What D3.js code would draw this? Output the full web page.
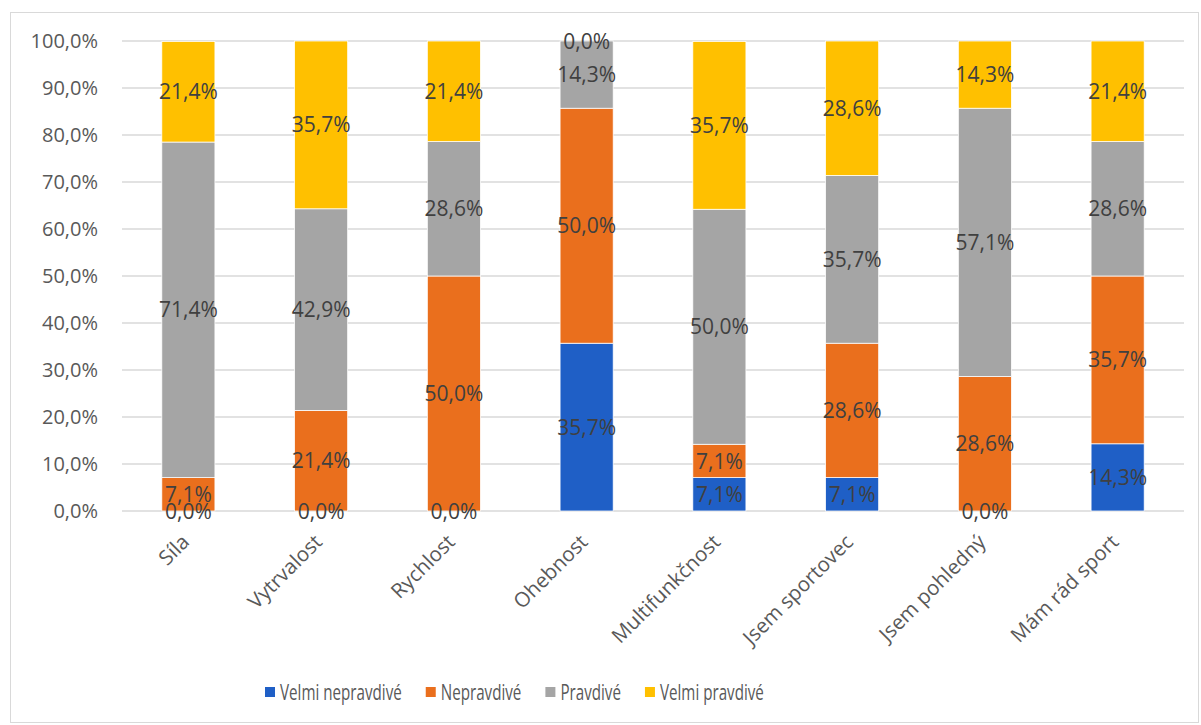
<!DOCTYPE html>
<html>
<head>
<meta charset="utf-8">
<script src="https://cdn.jsdelivr.net/npm/d3@7"></script>
<style>
  body { margin: 0; background: #fff; }
  svg text { font-family: "Open Sans", "Segoe UI", sans-serif; }
</style>
</head>
<body>
<div id="chart"></div>
<script>
// categories and series, values in percent
const categories = ['Síla', 'Vytrvalost', 'Rychlost', 'Ohebnost', 'Multifunkčnost', 'Jsem sportovec', 'Jsem pohledný', 'Mám rád sport'];
const seriesNames = ['Velmi nepravdivé', 'Nepravdivé', 'Pravdivé', 'Velmi pravdivé'];
const velmiNepravdive = [0.0, 0.0, 0.0, 35.7, 7.1, 7.1, 0.0, 14.3];
const nepravdive      = [7.1, 21.4, 50.0, 50.0, 7.1, 28.6, 28.6, 35.7];
const pravdive        = [71.4, 42.9, 28.6, 14.3, 50.0, 35.7, 57.1, 28.6];
const velmiPravdive   = [21.4, 35.7, 21.4, 0.0, 35.7, 28.6, 14.3, 21.4];
const yTicks = [0, 10, 20, 30, 40, 50, 60, 70, 80, 90, 100];
const colors = ['#1F5FC6', '#EA6F1D', '#A5A5A5', '#FFC000'];

let width = 1201, height = 725;
let margins = { top: 41, right: 17, bottom: 214, left: 122 };

let locale = d3.formatLocale({ decimal: ',', thousands: ' ', grouping: [3], currency: ['', ' Kč'] });
let fmt = v => locale.format('.1f')(v) + '%';

let rows = categories.map((c, i) => ({
  cat: c,
  v: [velmiNepravdive[i], nepravdive[i], pravdive[i], velmiPravdive[i]]
}));

let stack = d3.stack()
  .keys([0, 1, 2, 3])
  .value((d, k) => d.v[k]);
let stacked = stack(rows);

let x = d3.scaleBand()
  .domain(categories)
  .range([margins.left, width - margins.right])
  .paddingInner(0.6)
  .paddingOuter(0.3);

let y = d3.scaleLinear()
  .domain([0, 100])
  .range([height - margins.bottom, margins.top]);

let $svg = d3.select('#chart').append('svg')
  .attr('width', width)
  .attr('height', height);

// chart border
$svg.append('rect')
  .attr('x', 10.5).attr('y', 12.5)
  .attr('width', 1188).attr('height', 710)
  .attr('fill', 'none')
  .attr('stroke', '#d9d9d9');

// gridlines
$svg.append('g')
  .selectAll('line')
  .data(yTicks)
  .enter()
  .append('line')
  .attr('x1', margins.left)
  .attr('x2', width - margins.right)
  .attr('y1', d => y(d))
  .attr('y2', d => y(d))
  .attr('stroke', '#d9d9d9')
  .attr('stroke-width', 1.5);

// y axis labels
let yAxis = d3.axisLeft(y).tickValues(yTicks).tickFormat(fmt).tickSize(0).tickPadding(0);
let $yAxis = $svg.append('g')
  .attr('transform', `translate(98,0)`)
  .call(yAxis);
$yAxis.select('.domain').remove();
$yAxis.selectAll('text')
  .attr('font-family', '"Open Sans", sans-serif')
  .attr('font-size', 20)
  .attr('fill', '#595959');

// bars
let $layers = $svg.append('g')
  .selectAll('g')
  .data(stacked)
  .enter()
  .append('g')
  .attr('fill', d => colors[d.key]);

$layers.selectAll('rect')
  .data(d => d)
  .enter()
  .append('rect')
  .attr('x', d => x(d.data.cat))
  .attr('width', x.bandwidth())
  .attr('y', d => y(d[1]))
  .attr('height', d => y(d[0]) - y(d[1]))
  .attr('stroke', '#fff')
  .attr('stroke-width', 0.75);

// data labels
let $labels = $svg.append('g');
stacked.forEach(layer => {
  layer.forEach(d => {
    $labels.append('text')
      .attr('x', x(d.data.cat) + x.bandwidth() / 2)
      .attr('y', y((d[0] + d[1]) / 2))
      .attr('dy', '0.36em')
      .attr('text-anchor', 'middle')
      .attr('font-size', 21)
      .attr('fill', '#404040')
      .text(fmt(d[1] - d[0]));
  });
});

// x labels, rotated
$svg.append('g')
  .selectAll('text')
  .data(categories)
  .enter()
  .append('text')
  .attr('transform', d => `translate(${x(d) + x.bandwidth() / 2 - 3},${y(0) + 27}) rotate(-45)`)
  .attr('text-anchor', 'end')
  .attr('dy', '0.36em')
  .attr('font-size', 20.5)
  .attr('fill', '#595959')
  .text(d => d);

// legend
let legendScale = 0.69;
let $legend = $svg.append('g').attr('transform', 'translate(265,692)');
let lx = 0;
seriesNames.forEach((name, i) => {
  let $item = $legend.append('g').attr('transform', `translate(${lx},0)`);
  $item.append('rect')
    .attr('x', 0).attr('y', -5)
    .attr('width', 10).attr('height', 10)
    .attr('fill', colors[i]);
  let $t = $item.append('text')
    .attr('transform', `translate(15,0) scale(${legendScale},1)`)
    .attr('dy', '0.36em')
    .attr('font-size', 22)
    .attr('fill', '#595959')
    .text(name);
  let w = $t.node().getComputedTextLength() * legendScale;
  lx += 15 + w + 24;
});
</script>
</body>
</html>
